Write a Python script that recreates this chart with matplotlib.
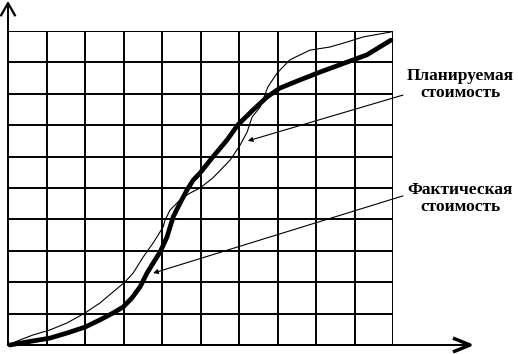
import numpy as np
import matplotlib
matplotlib.use('Agg')
import matplotlib.pyplot as plt

# толстая кривая (пересекает вторую)
thick_x = [0.05, 0.65, 1.09, 1.53, 2.0, 2.39, 2.73, 2.99, 3.22, 3.43, 3.61, 3.77, 3.95,
           4.13, 4.29, 4.47, 4.65, 4.81, 4.99, 5.32, 5.69, 5.97, 6.36, 6.73, 7.06,
           7.58, 8.10, 8.81, 9.32, 9.95]
thick_y = [0.0, 0.13, 0.22, 0.38, 0.57, 0.80, 1.02, 1.21, 1.50, 1.85, 2.29, 2.61, 2.96,
           3.44, 4.08, 4.52, 4.94, 5.25, 5.48, 5.99, 6.53, 7.01, 7.48, 7.90, 8.18,
           8.44, 8.69, 9.01, 9.24, 9.71]

# тонкая кривая
thin_x = [0.0, 0.31, 0.65, 1.09, 1.53, 2.0, 2.39, 2.73, 3.04, 3.25, 3.51, 3.77, 4.03,
          4.08, 4.21, 4.47, 4.73, 4.99, 5.32, 5.77, 6.03, 6.21, 6.34, 6.55, 6.75,
          6.99, 7.32, 7.84, 8.36, 8.81, 9.22, 9.95]
thin_y = [0.0, 0.16, 0.32, 0.48, 0.70, 1.02, 1.34, 1.69, 2.01, 2.29, 2.80, 3.25, 3.76,
          3.98, 4.30, 4.62, 4.84, 5.0, 5.32, 5.89, 6.37, 6.78, 7.26, 7.58, 8.22,
          8.66, 9.08, 9.39, 9.49, 9.65, 9.81, 9.97]

labels = ['Планируемая\nстоимость', 'Фактическая\nстоимость']
label_pos = [(11.75, 8.3), (11.75, 4.67)]       # центр подписи
line_start = [(10.26, 7.96), (10.26, 4.75)]     # откуда идёт указатель
line_tip = [(6.23, 6.50), (3.77, 2.29)]         # куда указывает

W, H = 518, 354
fig = plt.figure(figsize=(W / 100, H / 100), dpi=100)
# оси: сетка 10x10 от x=8..393 px, y=31..345 px (сверху)
ax = fig.add_axes([8 / W, 9 / H, 385 / W, 314 / H])
ax.set_xlim(0, 10)
ax.set_ylim(0, 10)
ax.axis('off')

# сетка
for i in range(11):
    ax.plot([i, i], [0, 10], color='black', lw=1.4, solid_capstyle='butt')
    ax.plot([0, 10], [i, i], color='black', lw=1.4, solid_capstyle='butt')

# оси со стрелками
ax.plot([0, 0], [0, 10.85], color='black', lw=1.4, clip_on=False)
ax.plot([0, 11.85], [0, 0], color='black', lw=1.4, clip_on=False)
ax.plot([-0.18, 0.0, 0.18], [10.5, 10.89, 10.5], color='black', lw=1.6, clip_on=False)
ax.plot([11.6, 12.0, 11.6], [0.2, 0.0, -0.2], color='black', lw=2.5, clip_on=False)

ax.plot(thin_x, thin_y, color='black', lw=0.8, clip_on=False)
ax.plot(thick_x, thick_y, color='black', lw=3.4, clip_on=False,
        solid_joinstyle='round', solid_capstyle='round')

for lab, pos, start, tip in zip(labels, label_pos, line_start, line_tip):
    ax.annotate('', xy=tip, xytext=start, annotation_clip=False,
                arrowprops=dict(arrowstyle='-|>', color='black', lw=0.8,
                                mutation_scale=7, shrinkA=0, shrinkB=0))
    ax.text(pos[0], pos[1], lab, ha='center', va='center', fontsize=12.5,
            fontweight='bold', family='Liberation Serif', linespacing=1.1,
            clip_on=False)

plt.savefig('out.png', dpi=100)
